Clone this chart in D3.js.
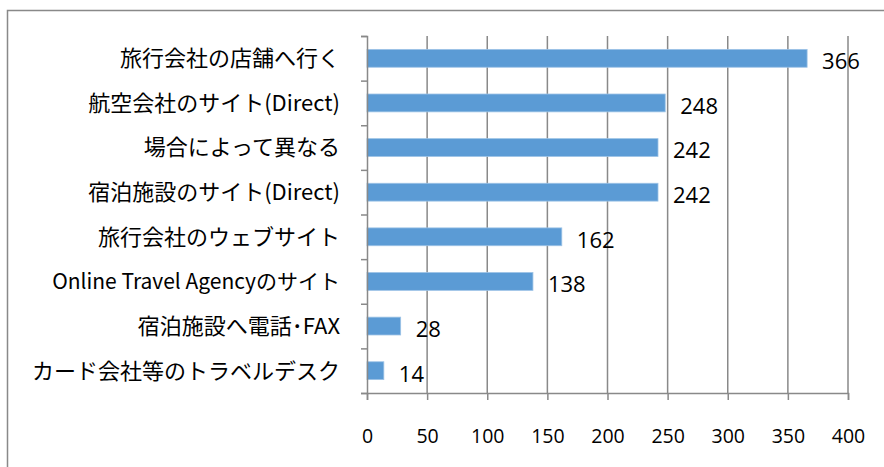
<!DOCTYPE html>
<html><head><meta charset="utf-8">
<script src="https://cdn.jsdelivr.net/npm/d3@7"></script>
<style>body{margin:0;background:#fff}svg{display:block}</style>
</head><body><svg id="c" width="884" height="467"></svg>
<script>
const categories = ["旅行会社の店舗へ行く","航空会社のサイト(Direct)","場合によって異なる","宿泊施設のサイト(Direct)","旅行会社のウェブサイト","Online Travel Agencyのサイト","宿泊施設へ電話･FAX","カード会社等のトラベルデスク"];
const values = [366,248,242,242,162,138,28,14];
const xTicks = [0,50,100,150,200,250,300,350,400];

const svg = d3.select("#c");
const m = {l:367, t:36, r:848, b:393};
svg.append("rect").attr("x",7.5).attr("y",10.5).attr("width",900).attr("height",500)
  .attr("fill","none").attr("stroke","#898989").attr("stroke-width",1.5);

const x = d3.scaleLinear().domain([0,400]).range([m.l,m.r]);
const y = d3.scaleBand().domain(categories).range([m.t,m.b]).paddingInner(0.6).paddingOuter(0.3);

// gridlines
svg.append("g").selectAll("line").data(xTicks.slice(1)).join("line")
  .attr("x1",d=>x(d)).attr("x2",d=>x(d)).attr("y1",m.t).attr("y2",m.b)
  .attr("stroke","#898989").attr("stroke-width",1.5);

// bars
svg.append("g").selectAll("rect").data(values).join("rect")
  .attr("x",x(0)).attr("y",(d,i)=>y(categories[i]))
  .attr("width",d=>x(d)-x(0)).attr("height",y.bandwidth())
  .attr("fill","#5B9BD5").attr("stroke","#9DC3E6").attr("stroke-width",0.8);

// x axis
const xa = svg.append("g").attr("transform",`translate(0,${m.b})`)
  .call(d3.axisBottom(x).tickValues(xTicks).tickSize(7).tickPadding(29));
xa.select(".domain").attr("stroke","#898989").attr("stroke-width",1.5);
xa.selectAll(".tick line").attr("stroke","#898989").attr("stroke-width",1.5);
xa.selectAll(".tick text").attr("font-family","'Open Sans','Noto Sans',sans-serif").attr("font-size",19.5).attr("fill","#000");

// y axis
const yb = d3.scaleLinear().domain([0,categories.length]).range([m.t,m.b]);
const ya = svg.append("g").attr("transform",`translate(${m.l},0)`)
  .call(d3.axisLeft(yb).ticks(categories.length).tickSize(6).tickFormat(""));
ya.select(".domain").attr("stroke","#898989").attr("stroke-width",1.5);
ya.selectAll(".tick line").attr("stroke","#898989").attr("stroke-width",1.5);

// category labels
svg.append("g").selectAll("text").data(categories).join("text")
  .attr("x",340).attr("y",d=>y(d)+y.bandwidth()/2).attr("dy","0.36em")
  .attr("text-anchor","end").attr("font-family","'Noto Sans CJK JP',sans-serif")
  .attr("font-size",d=>d.startsWith("Online")?21:22).attr("fill","#000").text(d=>d);

// value labels
svg.append("g").selectAll("text").data(values).join("text")
  .attr("x",d=>x(d)+15).attr("y",(d,i)=>y(categories[i])+y.bandwidth()/2+3).attr("dy","0.36em")
  .attr("font-family","'Liberation Sans Narrow','Open Sans',sans-serif").attr("font-size",22).attr("fill","#000")
  .text(d=>d);
</script></body></html>
